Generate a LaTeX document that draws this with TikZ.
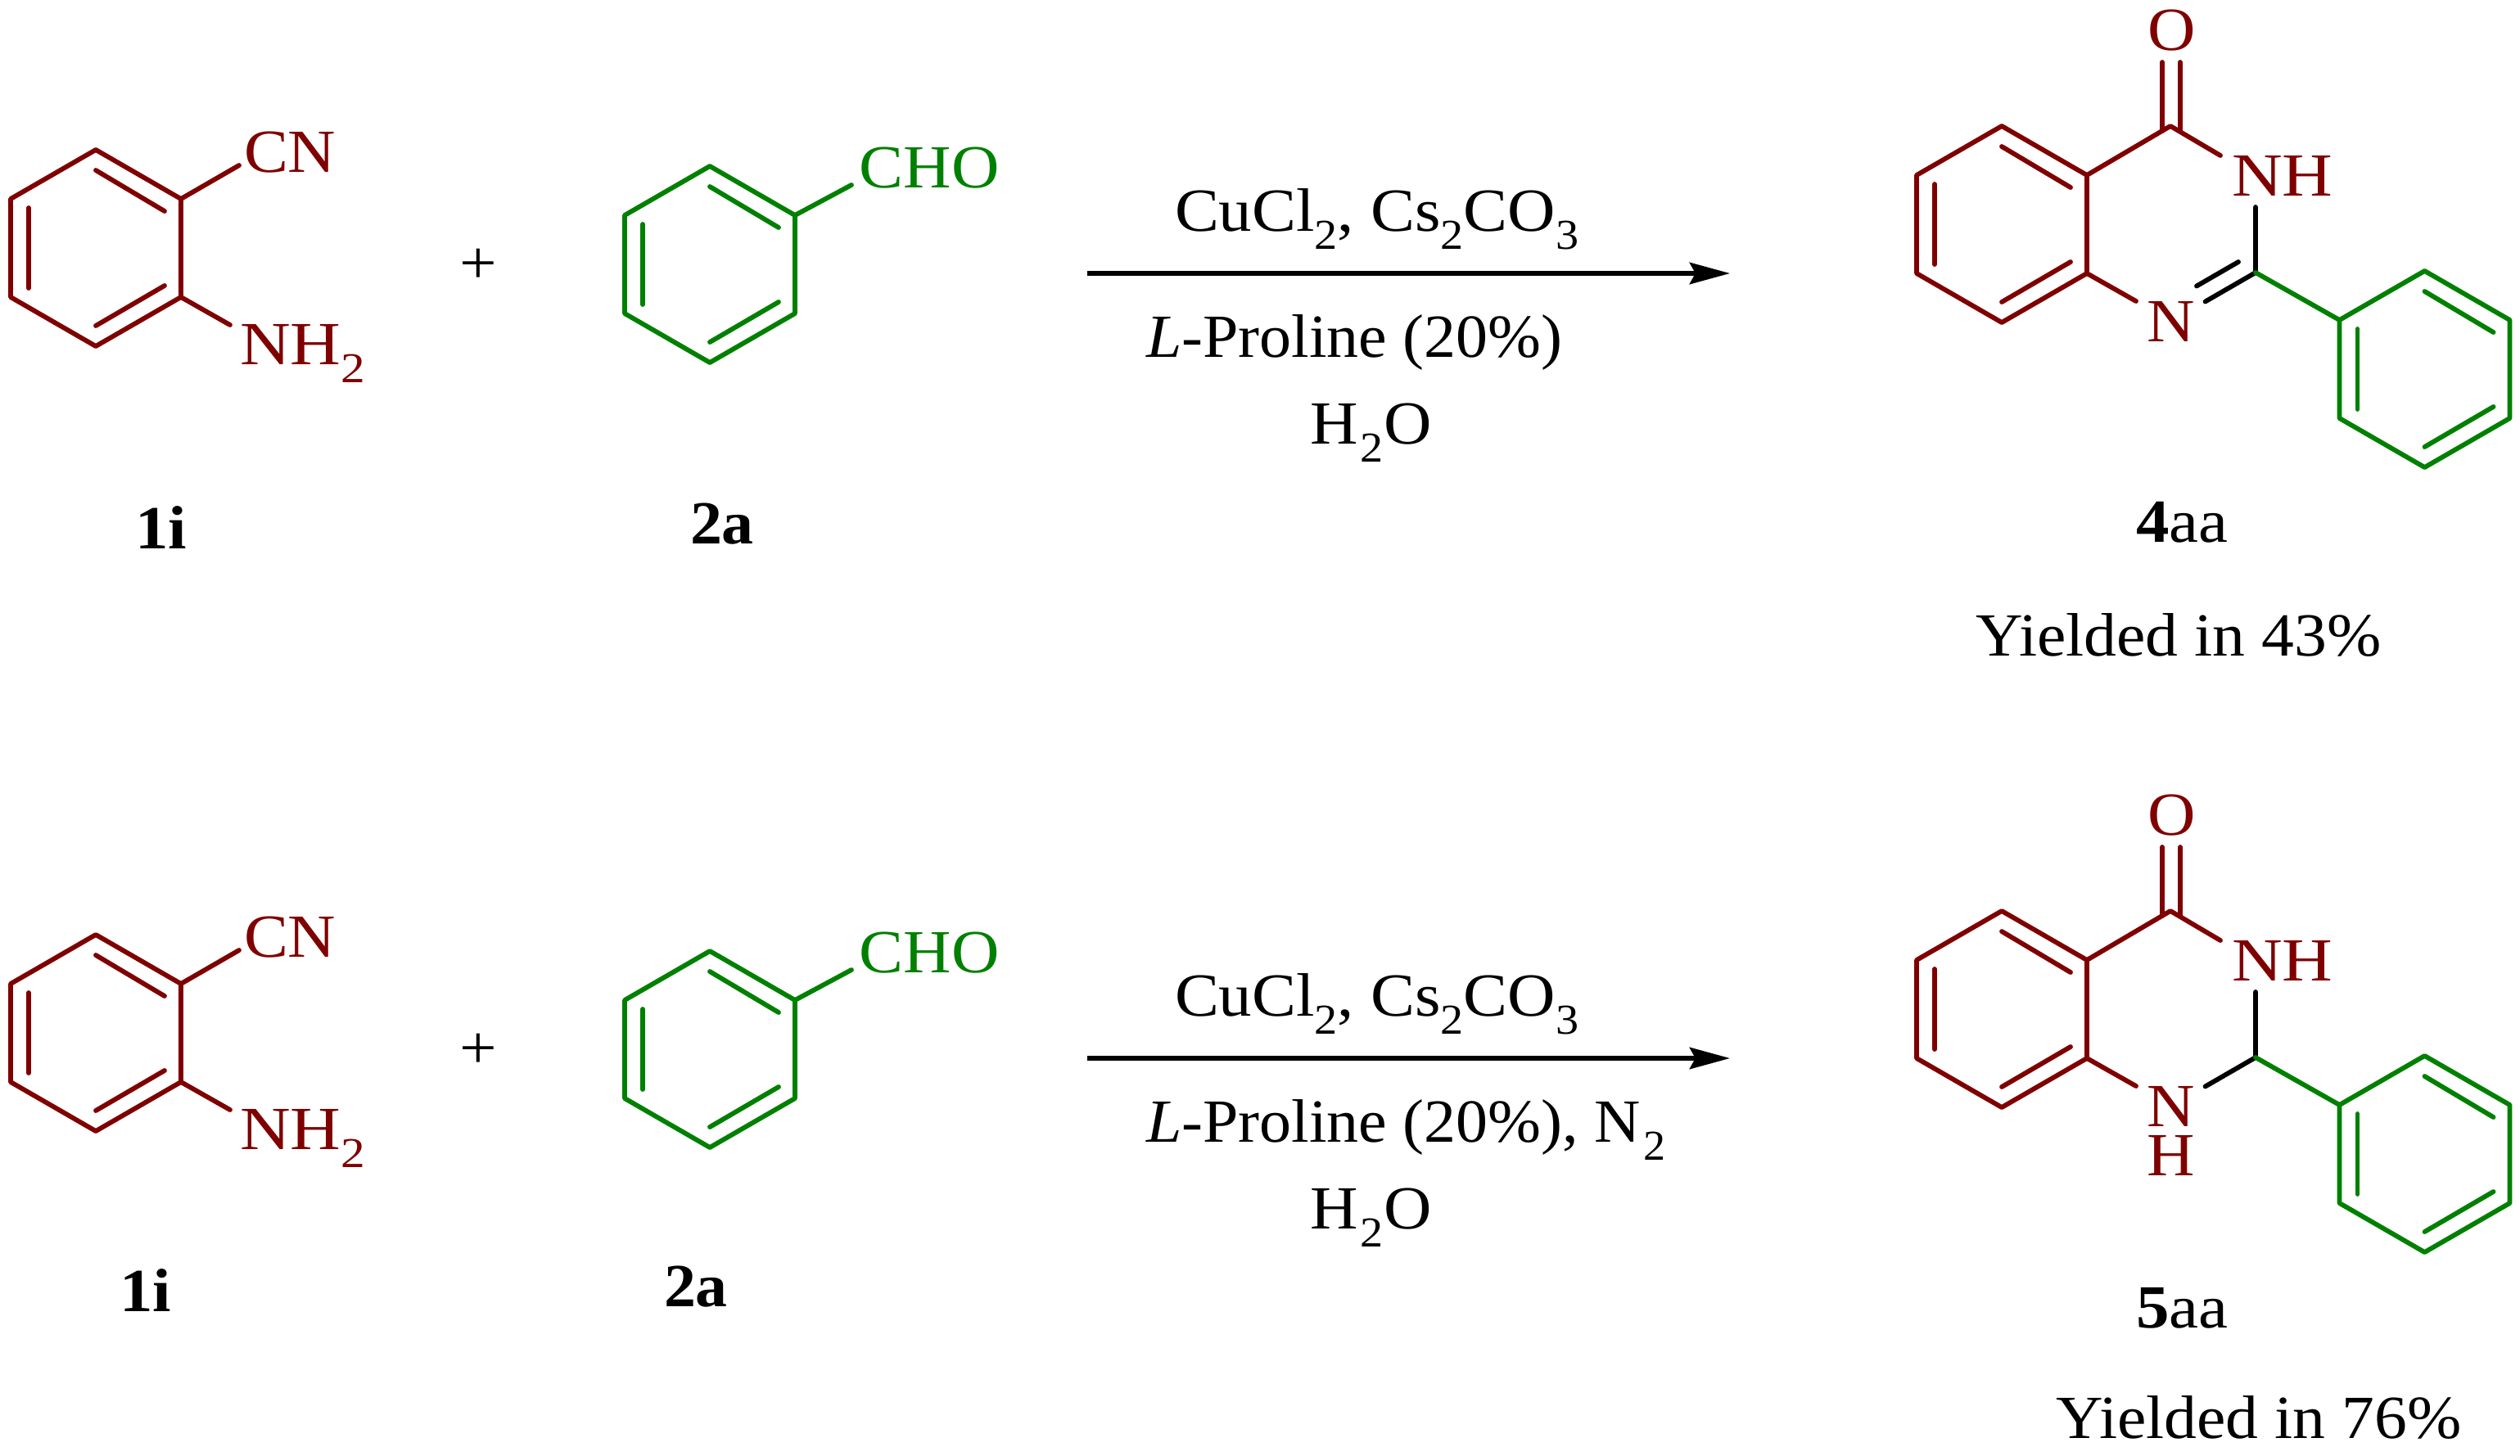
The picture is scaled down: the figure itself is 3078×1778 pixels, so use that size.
\documentclass[tikz,border=0pt]{standalone}
\usepackage{fontspec}
\setmainfont{Liberation Serif}[FakeStretch=1.08]
\newfontfamily\narrowserif{Liberation Serif}[FakeStretch=1.04]
\newfontfamily\midserif{Liberation Serif}[FakeStretch=1.063]
\newfontfamily\wideserif{Liberation Serif}[FakeStretch=1.14]
\usetikzlibrary{arrows.meta}
\definecolor{redbond}{HTML}{7F0000}
\definecolor{greenbond}{HTML}{008000}
\newcommand\sbs[1]{\raisebox{-6.5pt}{\fontsize{14.8pt}{15pt}\selectfont #1}}
\tikzset{
  bond/.style={line width=1.65pt,line cap=round,line join=round},
  txt/.style={inner sep=0pt,outer sep=0pt,anchor=base west,font=\fontsize{21.3pt}{24pt}\selectfont},
  redtxt/.style={txt,text=redbond},
  greentxt/.style={txt,text=greenbond},
  rarrow/.style={line width=1.5pt,-{Stealth[length=14pt,width=7.5pt,inset=2pt]}}
}
\newcommand\benzene[4]{%
  \begin{scope}[shift={(#2,#3)}]
    \coordinate (#1v1) at (0,-120);
    \coordinate (#1v2) at (104,-60);
    \coordinate (#1v3) at (104,60);
    \coordinate (#1v4) at (0,120);
    \coordinate (#1v5) at (-104,60);
    \coordinate (#1v6) at (-104,-60);
    \coordinate (#1a1) at (0,-95);
    \coordinate (#1a2) at (84,-45);
    \coordinate (#1b1) at (84,46);
    \coordinate (#1b2) at (0,95);
    \coordinate (#1c1) at (-82,49);
    \coordinate (#1c2) at (-82,-49);
    \draw[bond,#4] (#1v1)--(#1v2)--(#1v3)--(#1v4)--(#1v5)--(#1v6)--cycle;
    \draw[bond,#4] (#1a1)--(#1a2);
    \draw[bond,#4] (#1b1)--(#1b2);
    \draw[bond,#4] (#1c1)--(#1c2);
  \end{scope}}
\newcommand\reactants[2]{%
  \begin{scope}[shift={(0,#2)}]
    \benzene{#1A}{117}{303}{redbond}
    \coordinate (#1cn) at (292,202);
    \coordinate (#1nh) at (281,397);
    \draw[bond,redbond] (#1Av2)--(#1cn);
    \draw[bond,redbond] (#1Av3)--(#1nh);
    \node[redtxt] (#1CNt) at (298,210) {CN};
    \node[redtxt] (#1NHt) at (293,445) {\wideserif NH\sbs{2}};
    \node[txt,anchor=center] (#1plus) at (584,325) {+};
    \benzene{#1B}{867}{323}{greenbond}
    \coordinate (#1cho) at (1040,226);
    \draw[bond,greenbond] (#1Bv2)--(#1cho);
    \node[greentxt] (#1CHOt) at (1048,229) {\kern0.5pt CHO};
  \end{scope}}
\newcommand\product[2]{%
  \begin{scope}[shift={(0,#2)}]
    \benzene{#1C}{2445}{274}{redbond}
    \benzene{#1D}{2961.5}{451}{greenbond}
    \coordinate (#1c4) at (2651,154);
    \coordinate (#1c2) at (2755,333);
    \coordinate (#1o1) at (2641,76);
    \coordinate (#1o2) at (2641,160);
    \coordinate (#1o3) at (2663,76);
    \coordinate (#1o4) at (2663,160);
    \coordinate (#1n3) at (2712,190);
    \coordinate (#1n3b) at (2755,253);
    \coordinate (#1n1) at (2609,368);
    \coordinate (#1n1b) at (2693.5,368.5);
    \draw[bond,redbond] (#1Cv2)--(#1c4)--(#1n3);
    \draw[bond,redbond] (#1Cv3)--(#1n1);
    \draw[bond,redbond] (#1o1)--(#1o2);
    \draw[bond,redbond] (#1o3)--(#1o4);
    \draw[bond,black] (#1n3b)--(#1c2)--(#1n1b);
    \draw[bond,greenbond] (#1c2)--(#1Dv6);
    \node[redtxt] (#1Ot) at (2623,61) {O};
    \node[redtxt] (#1NHt) at (2726,239) {\wideserif NH};
    \node[redtxt] (#1Nt) at (2622,417) {N};
  \end{scope}}
\newcommand\conditions[3]{%
  \begin{scope}[shift={(0,#2)}]
    \coordinate (#1s) at (1328,334);
    \coordinate (#1e) at (2113,334);
    \draw[rarrow] (#1s)--(#1e);
    \node[txt] (#1t1) at (1435,282) {CuCl\sbs{2}, Cs\sbs{2}CO\sbs{3}};
    \node[txt] (#1t2) at (1400,436) {#3};
    \node[txt] (#1t3) at (1600,542) {H\kern1pt\sbs{2}O};
  \end{scope}}
\begin{document}
\begin{tikzpicture}[x=0.01cm,y=-0.01cm]
  \path[use as bounding box,fill=white] (0,0) rectangle (3078,1778);
  % upper reaction
  \reactants{u}{0}
  \node[txt] (ul1) at (165,670) {\textbf{1i}};
  \node[txt] (ul2) at (843,664) {\narrowserif\textbf{2a}};
  \conditions{ua}{0}{\narrowserif\textit{L}-Proline (20\%)}
  \product{up}{0}
  \coordinate (upx1) at (2734,320);
  \coordinate (upx2) at (2683,349.5);
  \draw[bond,black] (upx1)--(upx2);
  \node[txt] (ul3) at (2609,662) {\textbf{4}aa};
  \node[txt] (uy) at (2413,801) {\midserif Yielded in 43\%};
  % lower reaction
  \reactants{l}{959}
  \node[txt] (ll1) at (146,1602) {\textbf{1i}};
  \node[txt] (ll2) at (811,1596) {\narrowserif\textbf{2a}};
  \conditions{la}{959}{\narrowserif\textit{L}-Proline (20\%), N\kern1pt\sbs{2}}
  \product{lp}{959}
  \node[redtxt] (lpH) at (2622,1436) {H};
  \node[txt] (ll3) at (2609,1622) {\textbf{5}aa};
  \node[txt] (ly) at (2511,1757) {\midserif Yielded in 76\%};
\end{tikzpicture}
\end{document}
